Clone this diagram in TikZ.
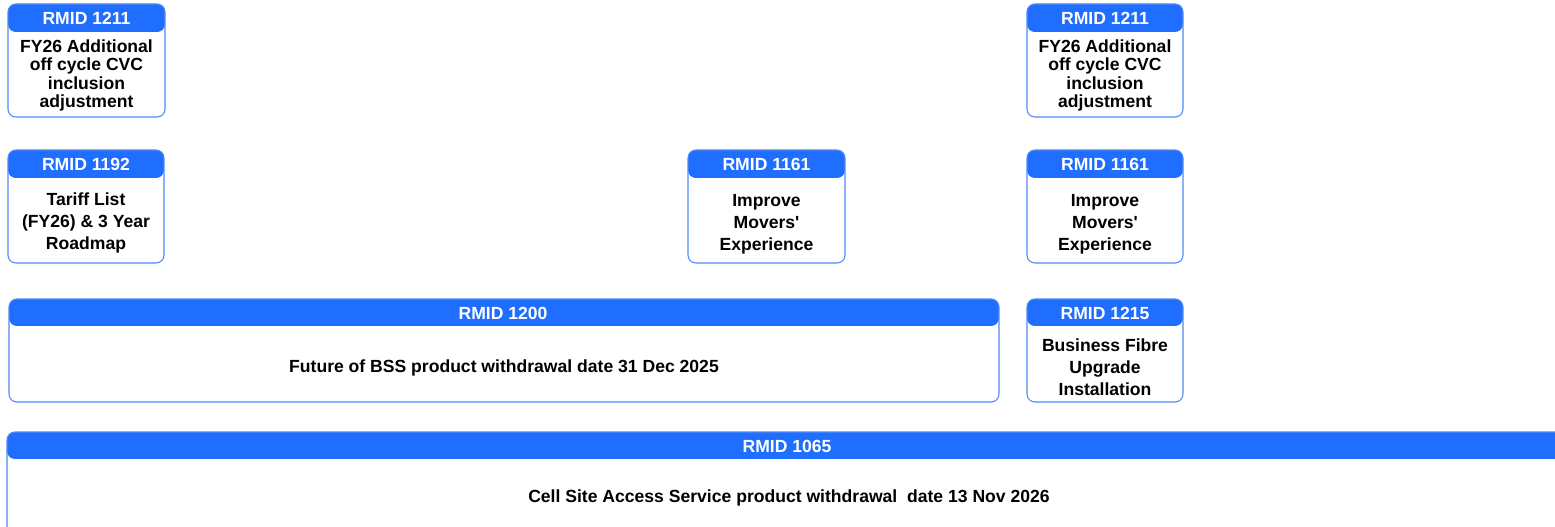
\documentclass[tikz,border=0pt]{standalone}
\usepackage{fontspec}
\setmainfont{Liberation Sans}[Ligatures=TeXOff]
\definecolor{hdrblue}{HTML}{1F6EFF}
\definecolor{lineblue}{HTML}{4F8BF7}
\tikzset{
  rmid/.style={draw=lineblue, line width=0.6pt, rounded corners=4.5pt,
    path picture={\fill[hdrblue] (path picture bounding box.north west)
      rectangle ([yshift=-#1]path picture bounding box.north east);}},
  rmid/.default=0.56cm,
  hdrtext/.style={text=white, font=\bfseries\fontsize{10}{11}\selectfont},
  bodytext/.style={align=center, font=\bfseries\fontsize{10}{12.6}\selectfont},
  tighttext/.style={align=center, font=\bfseries\fontsize{10}{10.6}\selectfont}
}
\begin{document}
\begin{tikzpicture}[x=0.02cm, y=-0.02cm]
  \useasboundingbox (0,0) rectangle (1555,527);
  \clip (0,0) rectangle (1555,527);
  % frames
  \draw[rmid=0.56cm] (8,4) rectangle (165,117);
  \draw[rmid=0.56cm] (1027,4) rectangle (1183,117);
  \draw[rmid=0.56cm] (8,150) rectangle (164,263);
  \draw[rmid=0.56cm] (688,150) rectangle (845,263);
  \draw[rmid=0.56cm] (1027,150) rectangle (1183,263);
  \draw[rmid=0.54cm] (9,299) rectangle (999,402);
  \draw[rmid=0.54cm] (1027,299) rectangle (1183,402);
  \draw[rmid=0.54cm] (7,432) rectangle (1600,580);
  % headers
  \node[hdrtext] (h1211a) at (86.5,18.5) {RMID 1211};
  \node[hdrtext] (h1211b) at (1105,18.5) {RMID 1211};
  \node[hdrtext] (h1192) at (86,164.5) {RMID 1192};
  \node[hdrtext] (h1161a) at (766.5,164.5) {RMID 1161};
  \node[hdrtext] (h1161b) at (1105,164.5) {RMID 1161};
  \node[hdrtext] (h1200) at (503,313.5) {RMID 1200};
  \node[hdrtext] (h1215) at (1105,313.5) {RMID 1215};
  \node[hdrtext] (h1065) at (787,446.5) {RMID 1065};
  % bodies
  \node[tighttext] (b1211a) at (86.5,75.5) {FY26 Additional\\off cycle CVC\\inclusion\\adjustment};
  \node[tighttext] (b1211b) at (1105,75.5) {FY26 Additional\\off cycle CVC\\inclusion\\adjustment};
  \node[bodytext] (b1192) at (86,223) {Tariff List\\(FY26) \& 3 Year\\Roadmap};
  \node[bodytext] (b1161a) at (766.5,224) {Improve\\Movers'\\Experience};
  \node[bodytext] (b1161b) at (1105,224) {Improve\\Movers'\\Experience};
  \node[bodytext] (b1200) at (504,368) {Future of BSS product withdrawal date 31 Dec 2025};
  \node[bodytext] (b1215) at (1105,367.5) {Business Fibre\\Upgrade\\Installation};
  \node[bodytext] (b1065) at (789,498) {Cell Site Access Service product withdrawal \ date 13 Nov 2026};
\end{tikzpicture}
\end{document}
